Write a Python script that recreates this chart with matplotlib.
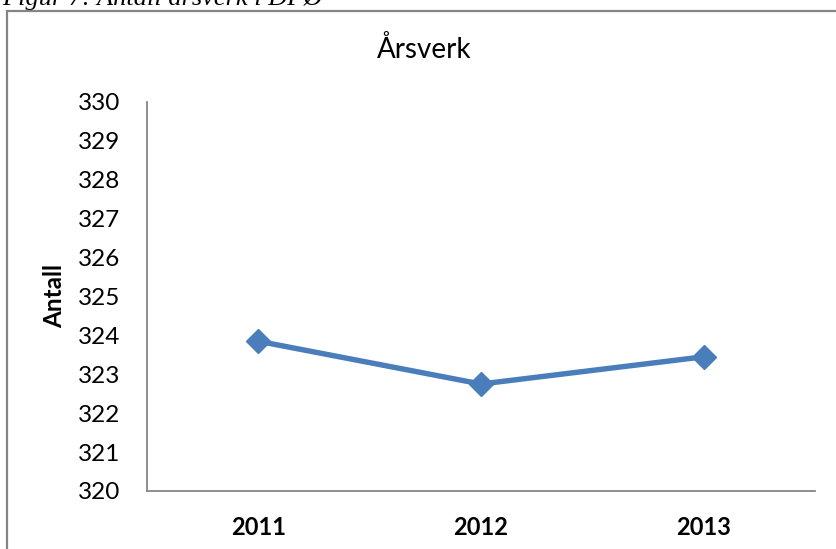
import matplotlib
matplotlib.use("Agg")
import matplotlib.pyplot as plt
from matplotlib.patches import Rectangle

categories = ["2011", "2012", "2013"]
values = [323.85, 322.75, 323.45]
yticks = [320, 321, 322, 323, 324, 325, 326, 327, 328, 329, 330]
title = "Årsverk"
ylabel = "Antall"
caption = "Figur 7: Antall årsverk i DPØ"

W, H = 836, 549
fig = plt.figure(figsize=(W / 100, H / 100), dpi=100)
fig.patch.set_facecolor("white")

# outer chart frame (cut by the image edge on the right and bottom)
fig.patches.append(Rectangle((7 / W, -0.1), 1.2, 1 - 11 / H + 0.1,
                             transform=fig.transFigure, fill=False,
                             edgecolor="#858585", linewidth=1.6))

# caption (cut off at the top, as in the source page)
fig.text(2 / W, 1 - 5.5 / H, caption, family="Liberation Serif", style="italic",
         fontsize=19, va="baseline", ha="left", color="black")

ax = fig.add_axes([147 / W, 1 - 491 / H, (815 - 147) / W, (491 - 102) / H])
x = list(range(len(categories)))
ax.plot(x, values, color="#4A7EBB", linewidth=3.9, marker="D", markersize=12.5,
        markerfacecolor="#4A7EBB", markeredgecolor="#4A7EBB", solid_capstyle="round")
ax.set_xlim(-0.5, len(categories) - 0.5)
ax.set_ylim(yticks[0], yticks[-1])
ax.set_yticks(yticks)
ax.set_xticks(x)
ax.set_xticklabels(categories, family="Lato", fontweight="bold", fontsize=17)
ax.set_yticklabels([str(v) for v in yticks], family="Lato", fontsize=17.5)
ax.tick_params(axis="both", length=0)
ax.tick_params(axis="y", pad=19)
ax.tick_params(axis="x", pad=18)
for s in ["top", "right"]:
    ax.spines[s].set_visible(False)
for s in ["left", "bottom"]:
    ax.spines[s].set_color("#868686")
    ax.spines[s].set_linewidth(1.3)
ax.set_facecolor("none")

fig.text(55 / W, 1 - 296 / H, ylabel, family="Lato", fontweight="bold", fontsize=17.5,
         rotation=90, ha="center", va="center")
fig.text(424 / W, 1 - 50 / H, title, family="Lato", fontsize=20, ha="center", va="center")

fig.savefig("out.png", dpi=100)
